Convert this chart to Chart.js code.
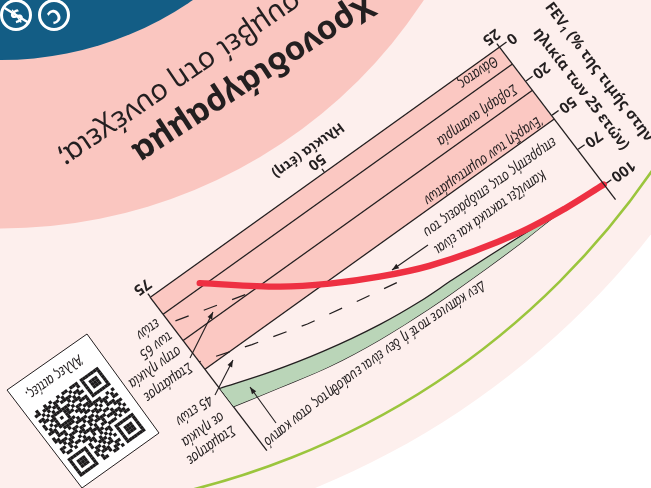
<!DOCTYPE html>
<html>
<head>
<meta charset="utf-8">
<style>
  html, body { margin: 0; padding: 0; background: #fff; }
  #wrap { width: 651px; height: 488px; }
</style>
<script src="https://cdn.jsdelivr.net/npm/chart.js@4"></script>
</head>
<body>
<div id="wrap"><canvas id="fevChart" width="651" height="488"></canvas></div>
<script>
// tick labels
const ageTicks = [25, 50, 75];
const fevTicks = [0, 20, 50, 70, 100];

// band limits, FEV1 %
const deathLimit = 10;
const disabilityLimit = 28;
const symptomLimit = 52;

// never smoked / not susceptible (green band)
const greenTopAges = [25, 31.5, 36.5, 41, 45.7, 50.3, 55.6, 62.8, 69.2, 75];
const greenTopFev = [100, 97.6, 95.4, 93.9, 92.6, 91.7, 88.5, 80.7, 70.9, 63.2];
const greenLowAges = [25, 31.5, 37, 41.8, 46.6, 50, 56.7, 63.2, 69.4, 75];
const greenLowFev = [100, 98.2, 99.6, 100, 100, 99.5, 97, 91.9, 83.6, 75.6];

// regular susceptible smoker
const smokerAges = [25, 30.3, 36.2, 46.9, 52.3, 57.4, 62.2, 69.4];
const smokerFev = [100, 97.9, 93.1, 75.4, 64.2, 53.4, 36.8, 8.2];

// stopped at 65 and at 45 (dashed)
const stop65Ages = [66, 71.4, 75];
const stop65Fev = [27.2, 19, 15.1];
const stop45Ages = [51.1, 55.4, 62.3, 68.9, 75];
const stop45Fev = [71.7, 68, 62.6, 55.4, 46.5];

const ink = '#231f20';
const narrow = '"Liberation Sans Narrow", "Noto Sans", sans-serif';
const noteFont = 'italic 15px ' + narrow;
const noteSqueeze = 0.81;

// the y axis is not linear, its ticks are equally spaced
function fevPos(v) {
    for (let i = 0; i < fevTicks.length - 1; i++) {
        if (v <= fevTicks[i + 1]) {
            return i + (v - fevTicks[i]) / (fevTicks[i + 1] - fevTicks[i]);
        }
    }
    return fevTicks.length - 1 + (v - 100) / 30;
}

function points(ages, fev) {
    return ages.map((a, i) => ({ x: a, y: fevPos(fev[i]) }));
}

function flat(v) {
    return points([ageTicks[0], ageTicks[2]], [v, v]);
}

function curve(label, data, color, width, extra) {
    return Object.assign({
        label: label,
        data: data,
        borderColor: color,
        borderWidth: width,
        pointRadius: 0,
        fill: false,
        clip: false
    }, extra || {});
}

const textAngle = 144.4 * Math.PI / 180;
const upAngle = 52.9 * Math.PI / 180;

function text(ctx, str, x, y, font, angle, align, baseline, squeeze) {
    ctx.save();
    ctx.translate(x, y);
    ctx.rotate(angle === undefined ? textAngle : angle);
    ctx.scale(squeeze || 1, 1);
    ctx.font = font;
    ctx.fillStyle = ink;
    ctx.textAlign = align || 'center';
    ctx.textBaseline = baseline || 'middle';
    ctx.fillText(str, 0, 0);
    ctx.restore();
}

function note(ctx, str, x, y) {
    text(ctx, str, x, y, noteFont, textAngle, 'center', 'middle', noteSqueeze);
}

// y axis title first line, with a real small subscript
function fevTitle(ctx, x, y) {
    const big = 'bold 15px ' + narrow;
    const small = 'bold 10px ' + narrow;
    const rest = ' (% της τιμής στην';
    ctx.save();
    ctx.translate(x, y);
    ctx.rotate(upAngle);
    ctx.font = big;
    const w1 = ctx.measureText('FEV').width;
    const w3 = ctx.measureText(rest).width;
    ctx.font = small;
    const w2 = ctx.measureText('1').width;
    const start = -(w1 + w2 + w3) / 2;
    ctx.fillStyle = ink;
    ctx.textBaseline = 'middle';
    ctx.textAlign = 'left';
    ctx.font = big;
    ctx.fillText('FEV', start, 0);
    ctx.fillText(rest, start + w1 + w2, 0);
    ctx.font = small;
    ctx.fillText('1', start + w1, 4);
    ctx.restore();
}

// one letter at a time along a quadratic curve
function noteAlong(ctx, str, p0, p1, p2) {
    const samples = [];
    let total = 0;
    for (let i = 0; i <= 200; i++) {
        const t = i / 200, u = 1 - t;
        const x = u * u * p0[0] + 2 * u * t * p1[0] + t * t * p2[0];
        const y = u * u * p0[1] + 2 * u * t * p1[1] + t * t * p2[1];
        if (i > 0) total += Math.hypot(x - samples[i - 1].x, y - samples[i - 1].y);
        samples.push({ x: x, y: y, s: total });
    }
    ctx.save();
    ctx.font = noteFont;
    const full = ctx.measureText(str).width;
    ctx.restore();
    const stretch = total / full;
    let pos = 0;
    for (const ch of str) {
        ctx.save();
        ctx.font = noteFont;
        const w = ctx.measureText(ch).width * stretch;
        ctx.restore();
        const mid = pos + w / 2;
        let k = 0;
        while (k < 199 && samples[k + 1].s < mid) k++;
        const a = Math.atan2(samples[k + 1].y - samples[k].y, samples[k + 1].x - samples[k].x);
        text(ctx, ch, samples[k].x, samples[k].y, noteFont, a, 'center', 'middle', stretch);
        pos += w;
    }
}

function arrow(ctx, x1, y1, x2, y2) {
    const a = Math.atan2(y2 - y1, x2 - x1);
    ctx.save();
    ctx.strokeStyle = ink;
    ctx.fillStyle = ink;
    ctx.lineWidth = 1.1;
    ctx.beginPath();
    ctx.moveTo(x1, y1);
    ctx.lineTo(x2, y2);
    ctx.stroke();
    ctx.translate(x2, y2);
    ctx.rotate(a);
    ctx.beginPath();
    ctx.moveTo(0, 0);
    ctx.lineTo(-7, 2.6);
    ctx.lineTo(-7, -2.6);
    ctx.closePath();
    ctx.fill();
    ctx.restore();
}

// QR card in the corner
const qrRows = [
    '1111111010110011001111111',
    '1000001001101001001000001',
    '1011101011001110101011101',
    '1011101000110101101011101',
    '1011101010101011001011101',
    '1000001001011100101000001',
    '1111111010101010101111111',
    '0000000011010011000000000',
    '1101011100110101110010110',
    '0110100011011100101101001',
    '1011111010010111010011011',
    '0100100111101001100110100',
    '1110011001011011011101110',
    '0011100110110100110010011',
    '1100101011001111001011101',
    '0101110100110010111100100',
    '1010011111011001111110111',
    '0000000011101100100011010',
    '1111111010011011101010101',
    '1000001011100101100011001',
    '1011101000111011111110110',
    '1011101011010100010101011',
    '1011101001101111011010100',
    '1000001010010010110111011',
    '1111111011101101001010010'
];

function drawCard(ctx) {
    ctx.fillStyle = '#fff';
    ctx.strokeStyle = ink;
    ctx.lineWidth = 1;
    ctx.beginPath();
    ctx.moveTo(87, 334);
    ctx.lineTo(159, 433);
    ctx.lineTo(82, 488);
    ctx.lineTo(7, 390);
    ctx.closePath();
    ctx.fill();
    ctx.stroke();
    // module grid, right = (-.8135,.5828), down = (-.6055,-.7958)
    const m = 3.2;
    ctx.save();
    ctx.transform(-0.8135 * m, 0.5828 * m, -0.6055 * m, -0.7958 * m, 130, 428);
    ctx.translate(-3.5, -3.5);
    ctx.fillStyle = '#1c1a1b';
    qrRows.forEach((row, r) => {
        for (let c = 0; c < row.length; c++) {
            if (row[c] === '1') ctx.fillRect(c, r, 1.02, 1.02);
        }
    });
    ctx.restore();
}

function drawIcons(ctx) {
    [[16, 15], [54, 15]].forEach(p => {
        ctx.beginPath();
        ctx.arc(p[0], p[1], 14.5, 0, Math.PI * 2);
        ctx.strokeStyle = '#fff';
        ctx.lineWidth = 3;
        ctx.stroke();
    });
    [['$', 16], ['C', 54]].forEach(g => {
        ctx.save();
        ctx.fillStyle = '#fff';
        ctx.font = 'bold 19px "Noto Sans", sans-serif';
        ctx.textAlign = 'center';
        ctx.textBaseline = 'middle';
        ctx.translate(g[1], 15);
        ctx.rotate(textAngle);
        ctx.fillText(g[0], 0, 0);
        ctx.restore();
    });
    ctx.beginPath();
    ctx.moveTo(3, 7);
    ctx.lineTo(29, 23);
    ctx.strokeStyle = '#fff';
    ctx.lineWidth = 2.5;
    ctx.stroke();
}

// poster background, then the whole chart is drawn turned round
const posterPlugin = {
    id: 'poster',
    beforeDraw(chart) {
        const ctx = chart.ctx;
        const cx = 1, cy = -277;
        const disc = (r, c) => {
            ctx.beginPath();
            ctx.arc(cx, cy, r, 0, Math.PI * 2);
            ctx.fillStyle = c;
            ctx.fill();
        };
        ctx.fillStyle = '#fff';
        ctx.fillRect(0, 0, chart.width, chart.height);
        disc(827, '#fdefed');
        ctx.beginPath();
        ctx.arc(cx, cy, 790, 0, Math.PI * 2);
        ctx.strokeStyle = '#9bc53d';
        ctx.lineWidth = 2.5;
        ctx.stroke();
        disc(505.5, '#fac6c0');
        disc(337, '#135d85');
        drawIcons(ctx);
        drawCard(ctx);

        const area = chart.chartArea;
        const a = -0.8135, b = 0.5828, c = -0.6055, d = -0.7958;
        ctx.save();
        ctx.transform(a, b, c, d,
            499 - (a * area.left + c * area.bottom),
            47 - (b * area.left + d * area.bottom));
    },
    afterDraw(chart) {
        const ctx = chart.ctx;
        ctx.restore();

        text(ctx, 'Χρονοδιάγραμμα', 130, 147, 'bold 33px "Noto Sans", sans-serif', 147 * Math.PI / 180, 'right', 'alphabetic');
        text(ctx, 'Τι θα συμβεί στη συνέχεια;', 56, 153, '29px "Noto Sans", sans-serif', 145.7 * Math.PI / 180, 'right', 'alphabetic');

        fevTitle(ctx, 599, 72);
        text(ctx, 'ηλικία των 25 ετών)', 581, 89, 'bold 15px ' + narrow, upAngle);

        note(ctx, 'Θάνατος', 478, 72);
        note(ctx, 'Σοβαρή αναπηρία', 477, 115);
        note(ctx, 'Έναρξη των συμπτωμάτων', 483, 160);
        note(ctx, 'Καπνίζει τακτικά και είναι', 490, 212);
        note(ctx, 'επιρρεπής στις επιδράσεις του', 490, 187);
        note(ctx, 'Σταμάτησε', 168, 382);
        note(ctx, 'στην ηλικία', 155, 367);
        note(ctx, 'των 65', 156, 345);
        note(ctx, 'ετών', 148, 329);
        note(ctx, 'Σταμάτησε', 211, 445);
        note(ctx, 'σε ηλικία', 203, 429);
        note(ctx, '45 ετών', 194, 410);
        noteAlong(ctx, 'Δεν κάπνισε ποτέ ή δεν είναι ευαίσθητος στον καπνό', [483, 285], [380, 350], [267, 442]);
        note(ctx, 'Άλλες αιτίες.', 54, 377);

        arrow(ctx, 190, 358, 213, 312);
        arrow(ctx, 215, 395, 233, 360);
        arrow(ctx, 276, 423, 250, 387);
        arrow(ctx, 428, 245, 392, 270);
    }
};

const ctx = document.getElementById('fevChart').getContext('2d');
const fevChart = new Chart(ctx, {
    type: 'line',
    data: {
        datasets: [
            curve('Smoker', points(smokerAges, smokerFev), '#ee3042', 6.5, { cubicInterpolationMode: 'monotone', borderCapStyle: 'round' }),
            curve('Stopped at 65', points(stop65Ages, stop65Fev), ink, 1.2, { borderDash: [14, 16] }),
            curve('Stopped at 45', points(stop45Ages, stop45Fev), ink, 1.2, { borderDash: [14, 16] }),
            curve('Never smoked top', points(greenTopAges, greenTopFev), ink, 1.3, { cubicInterpolationMode: 'monotone', fill: { target: 4 }, backgroundColor: '#bad5b8' }),
            curve('Never smoked low', points(greenLowAges, greenLowFev), ink, 1.3, { cubicInterpolationMode: 'monotone' }),
            curve('Age 75 line', points([75, 75], [0, 114]), ink, 1.3),
            curve('Death', flat(deathLimit), ink, 1.3),
            curve('Disability', flat(disabilityLimit), ink, 1.3),
            curve('Symptoms', flat(symptomLimit), ink, 1.3, { fill: 'start', backgroundColor: '#fbc8c2' })
        ]
    },
    plugins: [posterPlugin],
    options: {
        responsive: false,
        animation: false,
        devicePixelRatio: 1,
        layout: {
            autoPadding: false,
            padding: { left: 70, right: 112, top: 100, bottom: 159 }
        },
        plugins: {
            legend: { display: false },
            tooltip: { enabled: false }
        },
        scales: {
            x: {
                type: 'linear',
                min: ageTicks[0],
                max: ageTicks[2],
                afterFit: scale => { scale.height = 38; },
                title: {
                    display: true,
                    text: 'Ηλικία (έτη)',
                    color: ink,
                    font: { family: narrow, size: 14, weight: 'bold' },
                    padding: { top: 0, bottom: 2 }
                },
                border: { color: ink, width: 1.3, z: 1 },
                grid: { drawOnChartArea: false, color: ink, tickLength: 4, lineWidth: 1.3 },
                ticks: {
                    stepSize: 25,
                    color: ink,
                    padding: 0,
                    maxRotation: 0,
                    font: { family: narrow, size: 15, weight: 'bold' },
                    callback: v => ageTicks.includes(v) ? String(v) : ''
                }
            },
            y: {
                type: 'linear',
                min: 0,
                max: 4.42,
                afterFit: scale => { scale.width = 40; },
                border: { color: ink, width: 1.3, z: 1 },
                grid: { drawOnChartArea: false, color: ink, tickLength: 9, lineWidth: 1.3 },
                ticks: {
                    stepSize: 1,
                    includeBounds: false,
                    color: ink,
                    padding: 2,
                    font: { family: narrow, size: 15, weight: 'bold' },
                    callback: v => fevTicks[v] === undefined ? '' : String(fevTicks[v])
                }
            }
        }
    }
});
</script>
</body>
</html>
